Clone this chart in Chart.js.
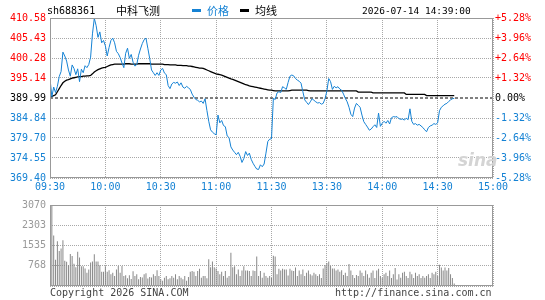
<!DOCTYPE html>
<html>
<head>
<meta charset="utf-8">
<script src="https://cdn.jsdelivr.net/npm/chart.js@4.4.1/dist/chart.umd.min.js"></script>
<style>
  body { margin: 0; background: #fff; }
  canvas { display: block; }
  .txt { position: absolute; white-space: nowrap; font-family: "DejaVu Sans Mono", monospace; font-size: 10px; line-height: 12px; }
  .cjk { font-family: "Noto Sans CJK SC", sans-serif; font-size: 11px; line-height: 13px; }
  .dash { position: absolute; width: 9px; height: 3px; }
</style>
</head>
<body>
<canvas id="priceChart" width="545" height="195"></canvas>
<canvas id="volChart" width="545" height="105"></canvas>

<div class="txt" style="left:47px; top:5px; color:#000;">sh688361</div>
<div class="txt cjk" style="left:116px; top:4px; color:#000;">中科飞测</div>
<div class="dash" style="left:192px; top:9px; background:#1582d4;"></div>
<div class="txt cjk" style="left:207px; top:4px; color:#1582d4;">价格</div>
<div class="dash" style="left:240px; top:9px; background:#000;"></div>
<div class="txt cjk" style="left:255px; top:4px; color:#000;">均线</div>
<div class="txt" style="left:362px; top:5px; color:#000; font-size:9.5px;">2026-07-14 14:39:00</div>

<div class="txt" style="left:458px; top:150px; color:#d4d4d4; font: italic bold 17px 'DejaVu Sans', sans-serif;">sina</div>

<div class="txt" style="left:50px; top:287px; color:#444;">Copyright 2026 SINA.COM</div>
<div class="txt" style="left:335px; top:287px; color:#444;">http://finance.sina.com.cn</div>

<script>
const timeLabels = ['09:30', '10:00', '10:30', '11:00', '11:30', '13:30', '14:00', '14:30', '15:00'];
const priceTicks = [369.40, 374.55, 379.70, 384.84, 389.99, 395.14, 400.28, 405.43, 410.58];
const pctTicks = [-5.28, -3.96, -2.64, -1.32, 0, 1.32, 2.64, 3.96, 5.28];
const volTicks = [0, 768, 1535, 2303, 3070];
const prevClose = 389.99;

// one value per trading minute, 09:30 .. 14:39
const price = [
  395.0, 390.3, 392.8, 391.4, 393.0, 395.5, 396.8, 401.8, 400.8, 399.5,
  397.2, 395.6, 398.5, 397.6, 396.0, 397.5, 394.2, 397.4, 396.5, 398.3,
  397.8, 398.6, 400.5, 406.5, 410.5, 408.6, 405.6, 407.0, 404.2, 404.8,
  403.4, 400.8, 403.0, 404.8, 405.4, 404.2, 402.0, 401.4, 400.4, 399.0,
  397.8, 401.5, 402.8, 400.2, 401.2, 399.2, 398.2, 398.6, 401.0, 402.6,
  404.0, 405.0, 405.4, 402.8, 400.2, 397.2, 396.5, 395.8, 396.5, 395.8,
  397.2, 397.6, 396.4, 396.0, 393.2, 392.4, 393.6, 394.0, 393.8, 394.1,
  393.2, 393.9, 392.8, 392.5, 393.0, 392.6, 392.2, 391.0, 390.2, 389.6,
  389.4, 389.0, 389.2, 388.6, 389.8, 386.8, 384.0, 381.8, 381.2, 380.8,
  380.5, 385.6, 383.6, 384.2, 382.9, 382.6, 380.2, 379.8, 377.4, 376.6,
  376.0, 375.4, 376.0, 375.0, 373.4, 374.4, 376.2, 375.2, 375.8, 374.2,
  373.2, 372.4, 371.7, 371.6, 372.8, 372.3, 373.0, 375.8, 378.8, 379.4,
  379.5, 389.9, 389.6, 391.3, 391.6, 391.4, 392.9, 392.6, 392.2, 394.0,
  395.6, 395.9, 395.7, 395.0, 394.6, 394.3, 393.8, 391.6, 389.5, 388.9,
  388.3, 389.0, 389.8, 389.4, 389.0, 388.7, 388.8, 388.4, 388.6, 389.8,
  391.8, 395.0, 394.2, 392.2, 393.0, 392.6, 392.9, 392.3, 392.0, 391.0,
  389.9, 389.0, 387.6, 385.8, 385.2, 387.4, 388.6, 388.1, 387.6, 385.6,
  383.9, 383.2, 382.5, 381.7, 382.0, 382.6, 383.1, 382.4, 386.1, 382.7,
  383.5, 384.0, 383.5, 384.2, 383.3, 384.9, 385.2, 385.1, 385.2, 384.7,
  384.5, 384.6, 384.3, 384.8, 384.4, 387.2, 384.0, 383.2, 383.4, 383.0,
  383.2, 382.8, 382.4, 381.8, 381.3, 382.4, 382.8, 383.0, 383.4, 383.2,
  383.6, 386.7, 387.6, 388.0, 388.4, 388.6, 389.1, 389.5, 389.8, 389.9
];

const avgPrice = [
  390.3, 390.4, 390.6, 390.8, 391.6, 392.4, 393.2, 393.9, 394.3, 394.6,
  394.7, 394.9, 395.1, 395.2, 395.3, 395.4, 395.5, 395.5, 395.6, 395.6,
  395.7, 395.7, 395.8, 396.2, 396.7, 397.0, 397.3, 397.5, 397.7, 397.8,
  397.9, 398.1, 398.3, 398.5, 398.6, 398.7, 398.7, 398.7, 398.7, 398.7,
  398.7, 398.8, 398.8, 398.8, 398.7, 398.7, 398.7, 398.7, 398.8, 398.8,
  398.8, 398.8, 398.8, 398.8, 398.8, 398.7, 398.7, 398.7, 398.7, 398.7,
  398.7, 398.7, 398.6, 398.6, 398.6, 398.5, 398.5, 398.5, 398.5, 398.4,
  398.4, 398.4, 398.3, 398.3, 398.3, 398.2, 398.2, 398.1, 398.0, 397.9,
  397.8, 397.7, 397.7, 397.6, 397.4, 397.2, 397.0, 396.8, 396.6, 396.4,
  396.2, 396.1, 396.0, 395.9, 395.7, 395.5, 395.3, 395.1, 394.9, 394.8,
  394.6, 394.4, 394.2, 394.0, 393.8, 393.6, 393.4, 393.3, 393.1, 393.0,
  392.9, 392.8, 392.7, 392.6, 392.5, 392.4, 392.3, 392.2, 392.1, 392.0,
  392.0, 391.9, 391.8, 391.8, 391.8, 391.8, 391.8, 391.8, 391.8, 391.8,
  391.9, 392.0, 392.0, 392.0, 392.0, 392.0, 392.0, 392.0, 392.0, 392.0,
  391.9, 391.8, 391.8, 391.8, 391.8, 391.8, 391.8, 391.8, 391.8, 391.8,
  391.8, 391.8, 391.8, 391.8, 391.8, 391.8, 391.8, 391.8, 391.8, 391.8,
  391.8, 391.8, 391.8, 391.8, 391.8, 391.8, 391.8, 391.5, 391.5, 391.5,
  391.5, 391.5, 391.5, 391.5, 391.5, 391.3, 391.3, 391.3, 391.3, 391.3,
  391.3, 391.3, 391.3, 391.3, 391.3, 391.3, 391.3, 391.3, 391.3, 391.3,
  391.3, 391.3, 391.3, 390.9, 390.9, 390.9, 390.9, 390.9, 390.9, 390.9,
  390.9, 390.9, 390.9, 390.9, 390.6, 390.6, 390.6, 390.6, 390.6, 390.6,
  390.6, 390.6, 390.6, 390.6, 390.6, 390.6, 390.6, 390.6, 390.6, 390.6
];

const volume = [
  220, 3050, 1914, 994, 1693, 1325, 1420, 1730, 957, 920,
  784, 1214, 1140, 846, 710, 1300, 1078, 747, 747, 662,
  500, 625, 894, 930, 1200, 930, 930, 784, 537, 540,
  747, 537, 600, 441, 500, 380, 625, 760, 500, 760,
  380, 410, 294, 410, 270, 560, 380, 450, 260, 340,
  320, 450, 480, 280, 340, 320, 450, 380, 600, 380,
  258, 195, 316, 380, 258, 290, 380, 316, 441, 258,
  380, 316, 258, 380, 195, 340, 537, 564, 537, 380,
  564, 650, 316, 380, 380, 290, 1015, 710, 930, 710,
  662, 564, 441, 537, 380, 564, 316, 380, 1262, 710,
  747, 441, 625, 380, 589, 747, 589, 589, 564, 380,
  589, 564, 1115, 380, 564, 316, 500, 380, 316, 380,
  300, 1150, 1115, 441, 650, 589, 650, 625, 625, 400,
  650, 589, 564, 700, 380, 589, 441, 625, 380, 500,
  589, 441, 400, 500, 441, 380, 441, 300, 662, 800,
  870, 930, 760, 660, 660, 589, 625, 540, 600, 420,
  500, 380, 832, 589, 420, 300, 420, 380, 589, 500,
  380, 589, 441, 316, 500, 589, 300, 589, 650, 380,
  316, 441, 500, 380, 589, 300, 441, 680, 250, 441,
  316, 500, 540, 380, 300, 540, 441, 300, 500, 380,
  441, 300, 380, 316, 380, 441, 300, 500, 441, 540,
  380, 810, 700, 589, 700, 589, 685, 441, 300, 96
];

const blue = '#1582d4';
const red = '#ff0000';
const gridColor = '#a8a8a8';
const gridDash = [1, 1];
const font = { family: 'DejaVu Sans Mono', size: 10 };

function sideColor(diff) {
  if (Math.abs(diff) < 0.001) return '#000000';
  return diff > 0 ? red : blue;
}

// gray box around the plot area
const frame = {
  id: 'frame',
  afterDraw(chart) {
    const { ctx, chartArea: a } = chart;
    ctx.save();
    ctx.strokeStyle = '#999999';
    ctx.lineWidth = 1;
    ctx.strokeRect(Math.round(a.left) + 0.5, Math.round(a.top) + 0.5,
      Math.round(a.right - a.left) - 1, Math.round(a.bottom - a.top) - 1);
    ctx.restore();
  }
};

const timeAxis = (showLabels, height) => ({
  type: 'linear',
  min: 0,
  max: 240,
  offset: false,
  afterBuildTicks: s => { s.ticks = timeLabels.map((t, i) => ({ value: i * 30 })); },
  ticks: {
    display: showLabels,
    autoSkip: false,
    maxRotation: 0,
    padding: 3,
    color: blue,
    font: font,
    callback: (v, i) => timeLabels[i]
  },
  grid: { display: true, offset: false, color: gridColor, lineWidth: 1, drawTicks: false },
  border: { display: false, dash: gridDash },
  afterFit: s => { s.height = height; }
});

new Chart(document.getElementById('priceChart'), {
  type: 'line',
  data: {
    datasets: [
      {
        label: '价格',
        data: price.map((p, i) => ({ x: i, y: p })),
        borderColor: blue,
        borderWidth: 1,
        pointRadius: 0,
        tension: 0
      },
      {
        label: '均线',
        data: avgPrice.map((p, i) => ({ x: i, y: p })),
        borderColor: '#000000',
        borderWidth: 1.3,
        pointRadius: 0,
        tension: 0
      },
      {
        label: '昨收',
        data: [{ x: 0, y: prevClose }, { x: 240, y: prevClose }],
        borderColor: '#000000',
        borderWidth: 1,
        borderDash: [3, 2],
        pointRadius: 0
      }
    ]
  },
  options: {
    responsive: false,
    animation: false,
    layout: { padding: { top: 18 } },
    plugins: { legend: { display: false }, tooltip: { enabled: false } },
    scales: {
      x: timeAxis(true, 17),
      y: {
        position: 'left',
        min: priceTicks[0],
        max: priceTicks[priceTicks.length - 1],
        afterBuildTicks: s => { s.ticks = priceTicks.map(v => ({ value: v })); },
        ticks: {
          autoSkip: false,
          padding: 4,
          font: font,
          color: ctx => sideColor(ctx.tick.value - prevClose),
          callback: v => v.toFixed(2)
        },
        grid: {
          display: true,
          lineWidth: 1,
          drawTicks: false,
          color: ctx => (ctx.tick && Math.abs(ctx.tick.value - prevClose) < 0.001) ? 'rgba(0,0,0,0)' : gridColor
        },
        border: { display: false, dash: gridDash },
        afterFit: s => { s.width = 50; }
      },
      yr: {
        position: 'right',
        min: pctTicks[0],
        max: pctTicks[pctTicks.length - 1],
        afterBuildTicks: s => { s.ticks = pctTicks.map(v => ({ value: v })); },
        ticks: {
          autoSkip: false,
          padding: 2,
          font: font,
          color: ctx => sideColor(ctx.tick.value),
          callback: v => (v > 0 ? '+' : (v < 0 ? '-' : '')) + Math.abs(v).toFixed(2) + '%'
        },
        grid: { display: false, drawTicks: false },
        border: { display: false },
        afterFit: s => { s.width = 52; }
      }
    }
  },
  plugins: [frame]
});

new Chart(document.getElementById('volChart'), {
  type: 'bar',
  data: {
    datasets: [{
      label: '成交量',
      data: volume.map((v, i) => ({ x: i, y: v })),
      backgroundColor: '#888888',
      barThickness: 1,
      inflateAmount: 0
    }]
  },
  options: {
    responsive: false,
    animation: false,
    layout: { padding: { top: 7, right: 52 } },
    plugins: { legend: { display: false }, tooltip: { enabled: false } },
    scales: {
      x: timeAxis(false, 14),
      y: {
        position: 'left',
        min: 0,
        max: volTicks[volTicks.length - 1],
        afterBuildTicks: s => { s.ticks = volTicks.map(v => ({ value: v })); },
        ticks: {
          autoSkip: false,
          padding: 4,
          font: font,
          color: '#999999',
          callback: v => (v === 0 ? '' : String(v))
        },
        grid: { display: true, color: gridColor, lineWidth: 1, drawTicks: false },
        border: { display: false, dash: gridDash },
        afterFit: s => { s.width = 50; }
      }
    }
  },
  plugins: [frame]
});
</script>
</body>
</html>
